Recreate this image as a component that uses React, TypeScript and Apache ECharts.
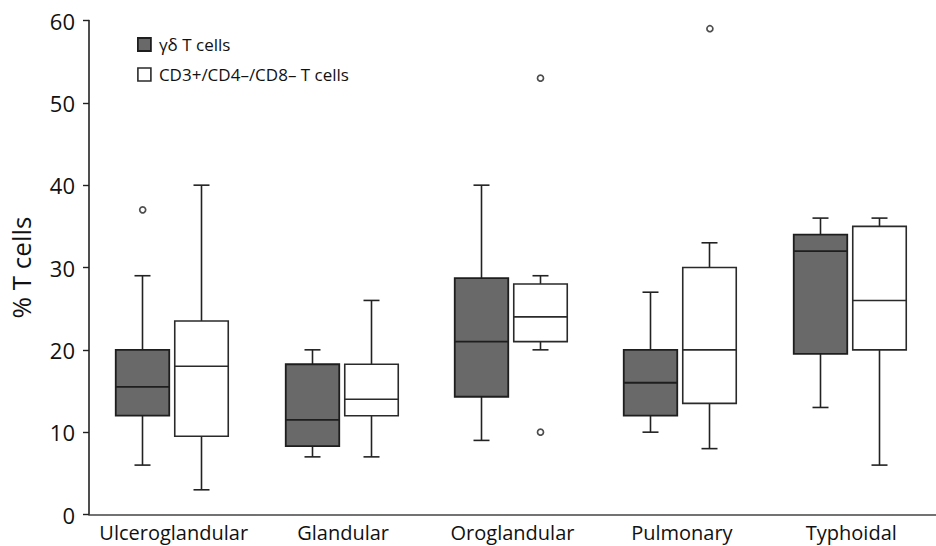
import React, { useEffect, useRef } from "react";
import * as echarts from "echarts";

const categories = ["Ulceroglandular", "Glandular", "Oroglandular", "Pulmonary", "Typhoidal"];
const seriesNames = ["γδ T cells", "CD3+/CD4–/CD8– T cells"];
// [min, Q1, median, Q3, max]
const gammaDeltaBoxes = [
  [6, 12, 15.5, 20, 29],
  [7, 8.3, 11.5, 18.25, 20],
  [9, 14.3, 21, 28.7, 40],
  [10, 12, 16, 20, 27],
  [13, 19.5, 32, 34, 36],
];
const doubleNegBoxes = [
  [3, 9.5, 18, 23.5, 40],
  [7, 12, 14, 18.25, 26],
  [20, 21, 24, 28, 29],
  [8, 13.5, 20, 30, 33],
  [6, 20, 26, 35, 36],
];
// [category index, value]
const gammaDeltaOutliers = [[0, 37]];
const doubleNegOutliers = [[2, 10], [2, 53], [3, 59]];
const yMin = 0;
const yMax = 60;
const yStep = 10;

const FONT = "'Open Sans', 'Noto Sans', sans-serif";

function makeRenderItem(offset: number, fill: string, stroke: string, lw: number) {
  const bw = 53.5;
  const cap = 16;
  return (params: any, api: any) => {
    const cat = api.value(0);
    const lo = api.coord([cat, api.value(1)]);
    const q1 = api.coord([cat, api.value(2)]);
    const med = api.coord([cat, api.value(3)]);
    const q3 = api.coord([cat, api.value(4)]);
    const hi = api.coord([cat, api.value(5)]);
    const cx = Math.round(lo[0] + offset) + 0.5;
    const left = cx - bw / 2;
    const ls = { stroke: "#222", lineWidth: 1.6 };
    return {
      type: "group",
      children: [
        { type: "line", shape: { x1: cx, y1: q3[1], x2: cx, y2: hi[1] }, style: ls },
        { type: "line", shape: { x1: cx - cap / 2, y1: hi[1], x2: cx + cap / 2, y2: hi[1] }, style: ls },
        { type: "line", shape: { x1: cx, y1: q1[1], x2: cx, y2: lo[1] }, style: ls },
        { type: "line", shape: { x1: cx - cap / 2, y1: lo[1], x2: cx + cap / 2, y2: lo[1] }, style: ls },
        {
          type: "rect",
          shape: { x: left, y: q3[1], width: bw, height: q1[1] - q3[1] },
          style: { fill, stroke, lineWidth: lw },
        },
        {
          type: "line",
          shape: { x1: left, y1: med[1], x2: left + bw, y2: med[1] },
          style: { stroke, lineWidth: lw },
        },
      ],
    };
  };
}

export default function App() {
  const ref = useRef<HTMLDivElement>(null);
  useEffect(() => {
    if (!ref.current) return;
    const chart = echarts.init(ref.current, undefined, { renderer: "svg" });
    const toData = (boxes: number[][]) => boxes.map((b, i) => [i, ...b]);
    const grayStyle = { color: "#696969", borderColor: "#1e1e1e", borderWidth: 1.8 };
    const whiteStyle = { color: "#ffffff", borderColor: "#2a2a2a", borderWidth: 1.6 };
    chart.setOption({
      animation: false,
      backgroundColor: "#ffffff",
      grid: { left: 85, right: -12, top: 20.5, bottom: 31.5, containLabel: false },
      legend: {
        orient: "vertical",
        left: 137,
        top: 36,
        padding: 0,
        itemWidth: 13,
        itemHeight: 13,
        itemGap: 13,
        icon: "rect",
        selectedMode: false,
        textStyle: {
          fontFamily: FONT,
          fontSize: 17,
          lineHeight: 13,
          color: "#111",
          padding: [0, 0, 0, 3],
        },
        data: [
          { name: seriesNames[0], itemStyle: grayStyle },
          { name: seriesNames[1], itemStyle: whiteStyle },
        ],
      },
      xAxis: {
        type: "category",
        data: categories,
        axisLine: { lineStyle: { color: "#444", width: 1.6 } },
        axisTick: { alignWithLabel: true, length: 3, lineStyle: { color: "#777" } },
        axisLabel: { interval: 0, fontFamily: FONT, fontSize: 20, color: "#111", margin: 8 },
        splitLine: { show: false },
      },
      yAxis: {
        type: "value",
        min: yMin,
        max: yMax,
        interval: yStep,
        name: "% T cells",
        nameLocation: "middle",
        nameGap: 55,
        nameTextStyle: { fontFamily: FONT, fontSize: 26, color: "#111" },
        axisLine: { show: true, lineStyle: { color: "#222", width: 1.6 } },
        axisTick: { show: true, length: 6, lineStyle: { color: "#222", width: 1.4 } },
        axisLabel: { fontFamily: FONT, fontSize: 22, color: "#111", margin: 14 },
        splitLine: { show: false },
      },
      series: [
        {
          name: seriesNames[0],
          type: "custom",
          renderItem: makeRenderItem(-31.5, "#696969", "#1e1e1e", 1.8),
          itemStyle: grayStyle,
          encode: { x: 0, y: [1, 2, 3, 4, 5] },
          data: toData(gammaDeltaBoxes),
          z: 2,
        },
        {
          name: seriesNames[1],
          type: "custom",
          renderItem: makeRenderItem(27.5, "#ffffff", "#2a2a2a", 1.6),
          itemStyle: whiteStyle,
          encode: { x: 0, y: [1, 2, 3, 4, 5] },
          data: toData(doubleNegBoxes),
          z: 2,
        },
        {
          name: "γδ outliers",
          type: "scatter",
          symbol: "circle",
          symbolSize: 6,
          symbolOffset: [-31, 0],
          itemStyle: { color: "#fff", borderColor: "#222", borderWidth: 1.7 },
          data: gammaDeltaOutliers,
          z: 3,
        },
        {
          name: "DN outliers",
          type: "scatter",
          symbol: "circle",
          symbolSize: 6,
          symbolOffset: [28, 0],
          itemStyle: { color: "#fff", borderColor: "#222", borderWidth: 1.7 },
          data: doubleNegOutliers,
          z: 3,
        },
      ],
    });
    return () => chart.dispose();
  }, []);
  return (
    <div
      ref={ref}
      style={{ position: "fixed", left: 0, top: 0, width: 936, height: 546, background: "#fff" }}
    />
  );
}
